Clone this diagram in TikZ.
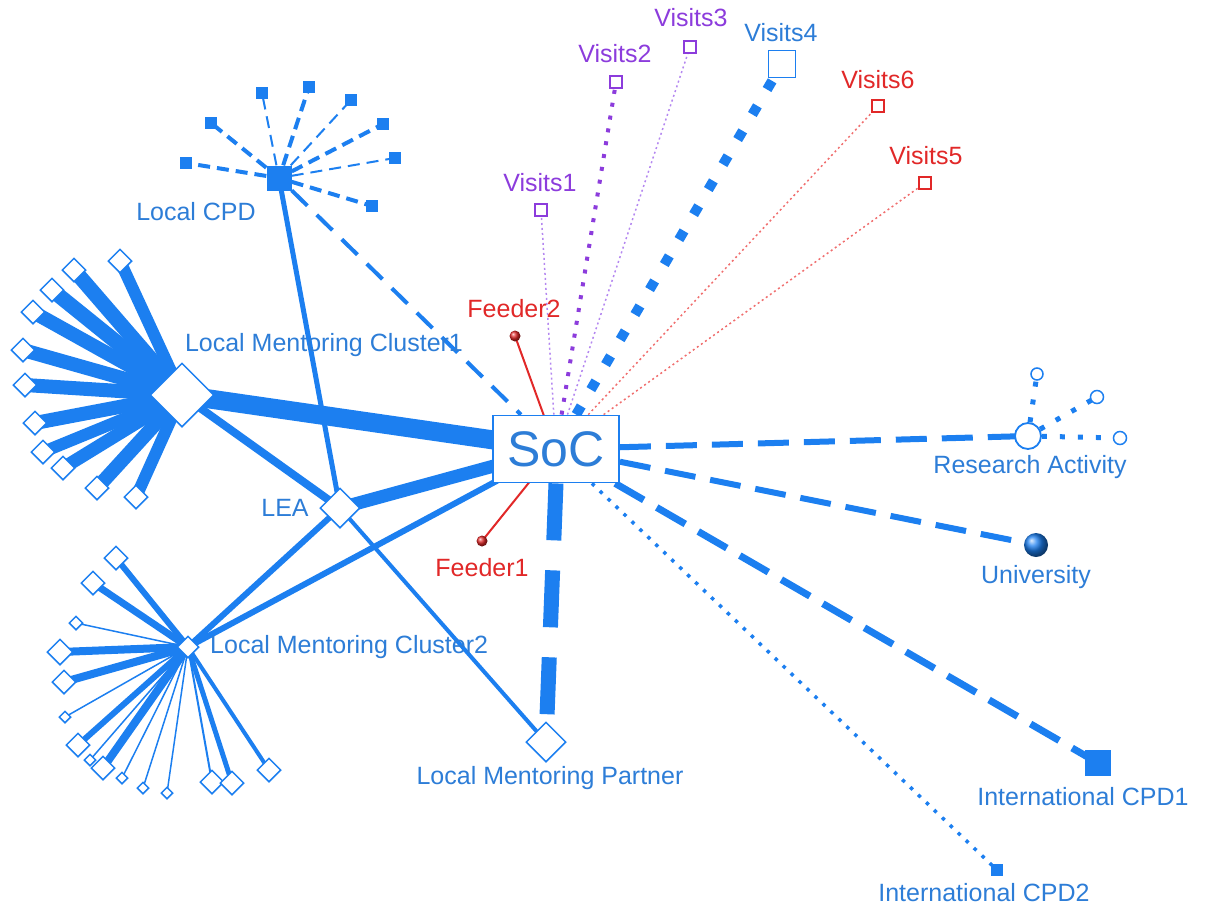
\documentclass[tikz,border=0pt]{standalone}
\usepackage{fontspec}
\setmainfont{Liberation Sans}
\usetikzlibrary{shapes.geometric}
\definecolor{bl}{RGB}{28,127,240}
\definecolor{tx}{RGB}{45,125,215}
\definecolor{pu}{RGB}{140,60,220}
\definecolor{pul}{RGB}{180,135,240}
\definecolor{rd}{RGB}{225,40,40}
\definecolor{rdl}{RGB}{240,110,110}
\pgfdeclarelayer{bg}
\pgfsetlayers{bg,main}
\tikzset{
  dia/.style={diamond, draw=bl, fill=white, line width=1.5pt, inner sep=0pt, minimum size=#1},
  dia/.default=24,
  fsq/.style={rectangle, fill=bl, inner sep=0pt, minimum size=#1},
  osq/.style={rectangle, draw=#1, fill=white, line width=1.5pt, inner sep=0pt, minimum size=12pt},
  lbl/.style={text=tx, font=\fontsize{25}{28}\selectfont, inner sep=0pt},
  lblp/.style={text=pu, font=\fontsize{25}{28}\selectfont, inner sep=0pt},
  lblr/.style={text=rd, font=\fontsize{25}{28}\selectfont, inner sep=0pt},
  ed/.style={draw=bl, line width=#1},
}
\begin{document}
\begin{tikzpicture}[x=1pt,y=-1pt]
\useasboundingbox (0,0) rectangle (1227,911);

% main nodes
\node[draw=bl, fill=white, line width=1.8pt, minimum width=126pt, minimum height=67pt, inner sep=0pt,
      text=tx, font=\fontsize{50}{54}\selectfont] (soc) at (556,449) {SoC};
\node[fsq=25pt] (lcpd) at (279,178) {};
\node[lbl] (lcpdL) at (196,212) {Local CPD};
\node[dia=64pt] (c1) at (182,395) {};
\node[lbl] (c1L) at (324,345) {Local Mentoring Cluster1};
\node[dia=40pt] (lea) at (340,508) {};
\node[lbl] (leaL) at (285,508) {LEA};
\node[dia=22pt] (c2) at (188,647) {};
\node[lbl, anchor=west] (c2L) at (210,647) {Local Mentoring Cluster2};
\node[dia=40pt] (lmp) at (546,742) {};
\node[lbl] (lmpL) at (550,778) {Local Mentoring Partner};

\node[circle, ball color=rd, inner sep=0pt, minimum size=11pt] (f1) at (482,541) {};
\node[lblr] (f1L) at (482,568) {Feeder1};
\node[circle, ball color=rd, inner sep=0pt, minimum size=11pt] (f2) at (515,336) {};
\node[lblr] (f2L) at (514,309) {Feeder2};

\node[osq=pu] (v1) at (541,210) {};
\node[lblp] (v1L) at (540,183) {Visits1};
\node[osq=pu] (v2) at (616,82) {};
\node[lblp] (v2L) at (615,54) {Visits2};
\node[osq=pu] (v3) at (690,47) {};
\node[lblp] (v3L) at (691,18) {Visits3};
\node[rectangle, draw=bl, fill=white, line width=1.8pt, inner sep=0pt, minimum size=27pt] (v4) at (782,64) {};
\node[lbl] (v4L) at (781,33) {Visits4};
\node[osq=rd] (v6) at (878,106) {};
\node[lblr] (v6L) at (878,80) {Visits6};
\node[osq=rd] (v5) at (925,183) {};
\node[lblr] (v5L) at (926,156) {Visits5};

\node[circle, draw=bl, fill=white, line width=1.8pt, inner sep=0pt, minimum size=26pt] (ra) at (1028,436) {};
\node[lbl] (raL) at (1030,467) {Research Activity};
\node[circle, draw=bl, fill=white, line width=1.5pt, inner sep=0pt, minimum size=12pt] (ra1) at (1037,374) {};
\node[circle, draw=bl, fill=white, line width=1.5pt, inner sep=0pt, minimum size=13pt] (ra2) at (1097,397) {};
\node[circle, draw=bl, fill=white, line width=1.5pt, inner sep=0pt, minimum size=13pt] (ra3) at (1120,438) {};

\node[circle, ball color=bl, inner sep=0pt, minimum size=24pt] (uni) at (1036,545) {};
\node[lbl] (uniL) at (1036,577) {University};
\node[fsq=26pt] (ic1) at (1098,763) {};
\node[lbl] (ic1L) at (1083,797) {International CPD1};
\node[fsq=12pt] (ic2) at (997,870) {};
\node[lbl] (ic2L) at (984,893) {International CPD2};

% Local CPD satellites
\foreach \x/\y/\w [count=\i] in {186/163/4, 211/123/4, 262/93/2, 309/87/4, 351/100/2, 383/124/4, 395/158/2, 372/206/4}{
  \node[fsq=12pt] (ls\i) at (\x,\y) {};
  \begin{pgfonlayer}{bg}
    \draw[ed=\w pt, dash pattern=on 12pt off 7pt] (lcpd) -- (ls\i.center);
  \end{pgfonlayer}
}
% Cluster1 satellites
\foreach \x/\y/\w [count=\i] in {120/261/12, 74/270/15, 52/290/15, 33/312/14, 23/350/14, 25/385/14, 35/423/14, 43/452/12, 63/468/13, 97/488/14, 136/497/12}{
  \node[dia=24pt] (c1s\i) at (\x,\y) {};
  \begin{pgfonlayer}{bg}
    \draw[ed=\w pt] (c1.center) -- (c1s\i.center);
  \end{pgfonlayer}
}
% Cluster2 satellites
\foreach \x/\y/\s/\w [count=\i] in {116/558/24/6, 93/583/24/7, 76/623/14/1.5, 60/652/26/8, 64/682/24/8, 65/717/12/1.5, 78/745/24/6, 90/760/12/1.5, 103/768/24/8, 122/778/12/1.5, 143/788/12/1.5, 167/793/12/1.5, 212/782/24/2, 232/783/24/5, 269/770/24/4}{
  \node[dia=\s pt] (c2s\i) at (\x,\y) {};
  \begin{pgfonlayer}{bg}
    \draw[ed=\w pt] (c2.center) -- (c2s\i.center);
  \end{pgfonlayer}
}

\begin{pgfonlayer}{bg}
  \draw[ed=4pt, dash pattern=on 22pt off 13pt] (lcpd) -- (soc);
  \draw[ed=5pt] (lcpd.center) -- (lea.center);
  \draw[ed=19pt] (c1.center) -- (soc.center);
  \draw[ed=8pt] (c1.center) -- (lea.center);
  \draw[ed=13pt] (lea.center) -- (soc.center);
  \draw[ed=4pt] (lea.center) -- (lmp.center);
  \draw[ed=6pt] (lea.center) -- (c2.center);
  \draw[ed=6pt] (c2.center) -- (soc.center);
  \draw[ed=15pt, dash pattern=on 57pt off 30pt] (soc.south) -- (lmp.center);
  \draw[draw=rd, line width=2pt] (soc.center) -- (f1.center);
  \draw[draw=rd, line width=2pt] (soc.center) -- (f2.center);
  \draw[draw=pul, line width=1.5pt, dash pattern=on 2pt off 3pt] (soc) -- (v1.center);
  \draw[draw=pu, line width=4pt, dash pattern=on 4pt off 9pt] (soc) -- (v2.center);
  \draw[draw=pul, line width=1.5pt, dash pattern=on 2pt off 3pt] (soc) -- (v3.center);
  \draw[ed=10pt, dash pattern=on 10pt off 19pt] (soc) -- (v4.center);
  \draw[draw=rdl, line width=1.5pt, dash pattern=on 2pt off 3pt] (soc) -- (v6.center);
  \draw[draw=rdl, line width=1.5pt, dash pattern=on 2pt off 3pt] (soc) -- (v5.center);
  \draw[ed=6pt, dash pattern=on 31pt off 15pt] (soc) -- (ra.center);
  \draw[ed=5pt, dash pattern=on 5pt off 13pt] (ra) -- (ra1.center);
  \draw[ed=5pt, dash pattern=on 5pt off 13pt] (ra) -- (ra2.center);
  \draw[ed=5pt, dash pattern=on 5pt off 13pt] (ra) -- (ra3.center);
  \draw[ed=6pt, dash pattern=on 31pt off 15pt] (soc) -- (uni.center);
  \draw[ed=7pt, dash pattern=on 33pt off 15pt] (soc) -- (ic1.center);
  \draw[ed=3.5pt, dash pattern=on 3.5pt off 7.5pt] (soc) -- (ic2.center);
\end{pgfonlayer}
\end{tikzpicture}
\end{document}
